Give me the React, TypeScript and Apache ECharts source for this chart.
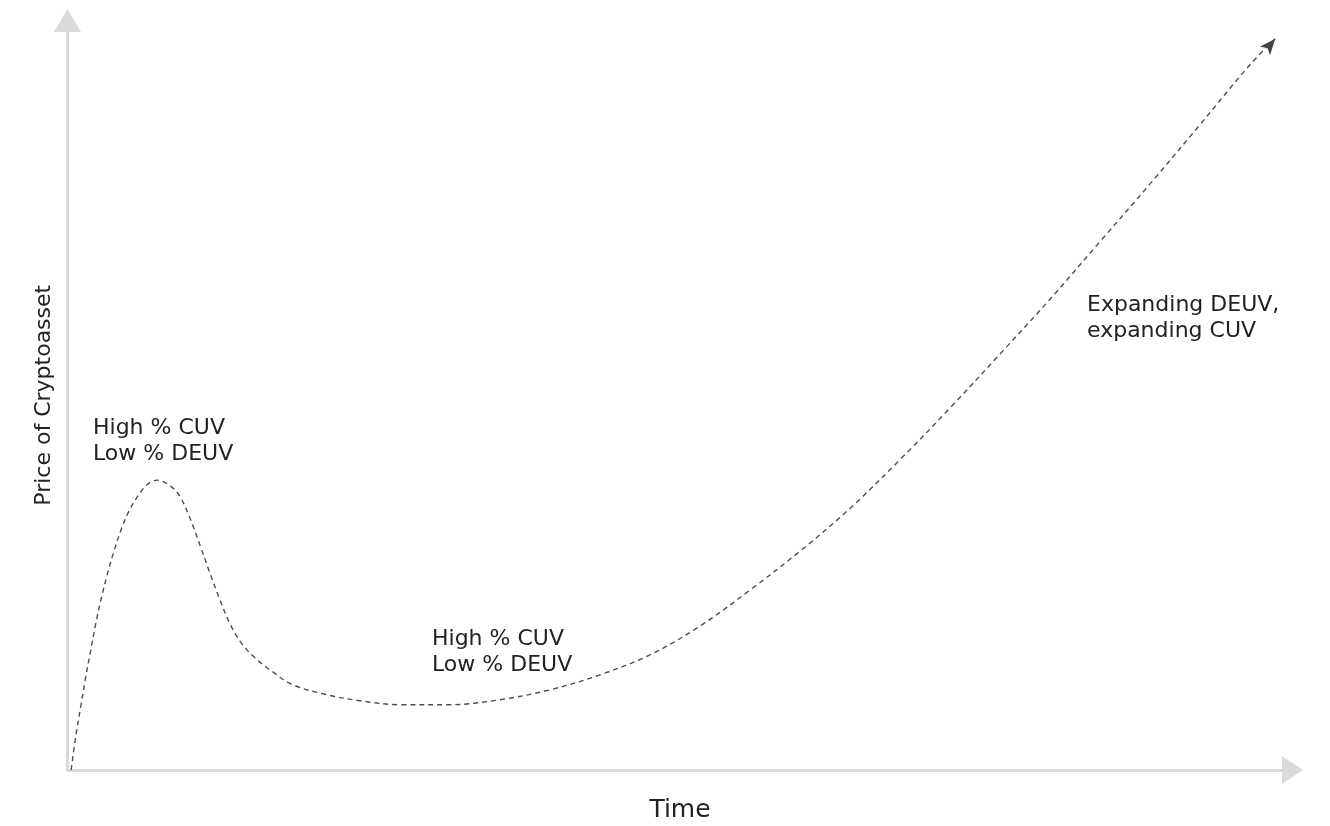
import React, { useEffect, useRef } from "react";
import * as echarts from "echarts";

// Time (x) and price (y) samples, in axis units 0..100
const timeValues = [0.3, 0.67, 1.08, 1.49, 1.89, 2.3, 2.71, 3.25, 3.8, 4.34, 5.02, 5.84, 6.51, 7.33, 8.42, 9.18, 10.0, 10.82, 11.63, 12.45, 13.27, 14.24, 15.31, 16.53, 18.41, 21.18, 23.88, 27.14, 31.22, 35.31, 39.39, 43.47, 47.55, 51.63, 55.71, 59.8, 63.88, 67.96, 72.04, 76.12, 80.2, 84.29, 88.37, 92.45, 96.53, 98.59];
const priceValues = [0, 4.45, 8.44, 12.43, 15.93, 19.48, 22.58, 26.13, 29.23, 31.89, 34.55, 36.77, 38.1, 38.67, 37.87, 36.5, 33.58, 29.99, 26.26, 22.67, 19.48, 16.82, 14.96, 13.36, 11.37, 10.04, 9.24, 8.71, 8.71, 9.38, 10.7, 12.7, 15.36, 19.2, 24.0, 29.2, 34.9, 41.4, 48.3, 55.5, 62.8, 70.5, 78.2, 86.1, 94.1, 97.57];

const xAxisName = "Time";
const yAxisName = "Price of Cryptoasset";
const annotations = [
  "High % CUV\nLow % DEUV",
  "High % CUV\nLow % DEUV",
  "Expanding DEUV,\nexpanding CUV",
];

const FONT = "DejaVu Sans";

export default function App() {
  const ref = useRef<HTMLDivElement>(null);

  useEffect(() => {
    if (!ref.current) return;
    const chart = echarts.init(ref.current, null, { renderer: "svg" });

    const lastIdx = timeValues.length - 1;
    const data = timeValues.map((t, i) => {
      if (i === lastIdx) {
        return {
          value: [t, priceValues[i]],
          symbol: "arrow",
          symbolSize: [10, 16],
          symbolRotate: -40,
        };
      }
      return { value: [t, priceValues[i]] };
    });

    const textStyle = (text: string, left: number, top: number) => ({
      type: "text",
      left,
      top,
      style: {
        text,
        fill: "#222",
        font: `22px '${FONT}'`,
        lineHeight: 25.5,
      },
    });

    chart.setOption({
      animation: false,
      grid: { left: 67.5, right: 37.5, top: 20.5, bottom: 53.5 },
      xAxis: {
        type: "value",
        min: 0,
        max: 100,
        name: xAxisName,
        nameLocation: "middle",
        nameGap: 26,
        nameTextStyle: { fontFamily: FONT, fontSize: 25, color: "#222" },
        axisLine: {
          onZero: false,
          lineStyle: { color: "#dadada", width: 3 },
          symbol: ["none", "triangle"],
          symbolSize: [28, 21],
        },
        axisTick: { show: false },
        axisLabel: { show: false },
        splitLine: { show: false },
      },
      yAxis: {
        type: "value",
        min: 0,
        max: 100,
        name: yAxisName,
        nameLocation: "middle",
        nameGap: 14,
        nameTextStyle: { fontFamily: FONT, fontSize: 22, color: "#222" },
        axisLine: {
          onZero: false,
          lineStyle: { color: "#dadada", width: 3 },
          symbol: ["none", "triangle"],
          symbolSize: [27, 23],
        },
        axisTick: { show: false },
        axisLabel: { show: false },
        splitLine: { show: false },
      },
      series: [
        {
          type: "line",
          data,
          smooth: 0.35,
          symbol: "none",
          showSymbol: true,
          lineStyle: { color: "#4d4d4d", width: 1.4, type: [5, 4] },
          itemStyle: { color: "#444", borderWidth: 0 },
          z: 5,
        },
      ],
      graphic: [
        textStyle(annotations[0], 93, 414),
        textStyle(annotations[1], 432, 625),
        textStyle(annotations[2], 1087, 291),
      ],
    });

    return () => chart.dispose();
  }, []);

  return (
    <div
      ref={ref}
      style={{ position: "fixed", left: 0, top: 0, width: 1330, height: 826 }}
    />
  );
}
